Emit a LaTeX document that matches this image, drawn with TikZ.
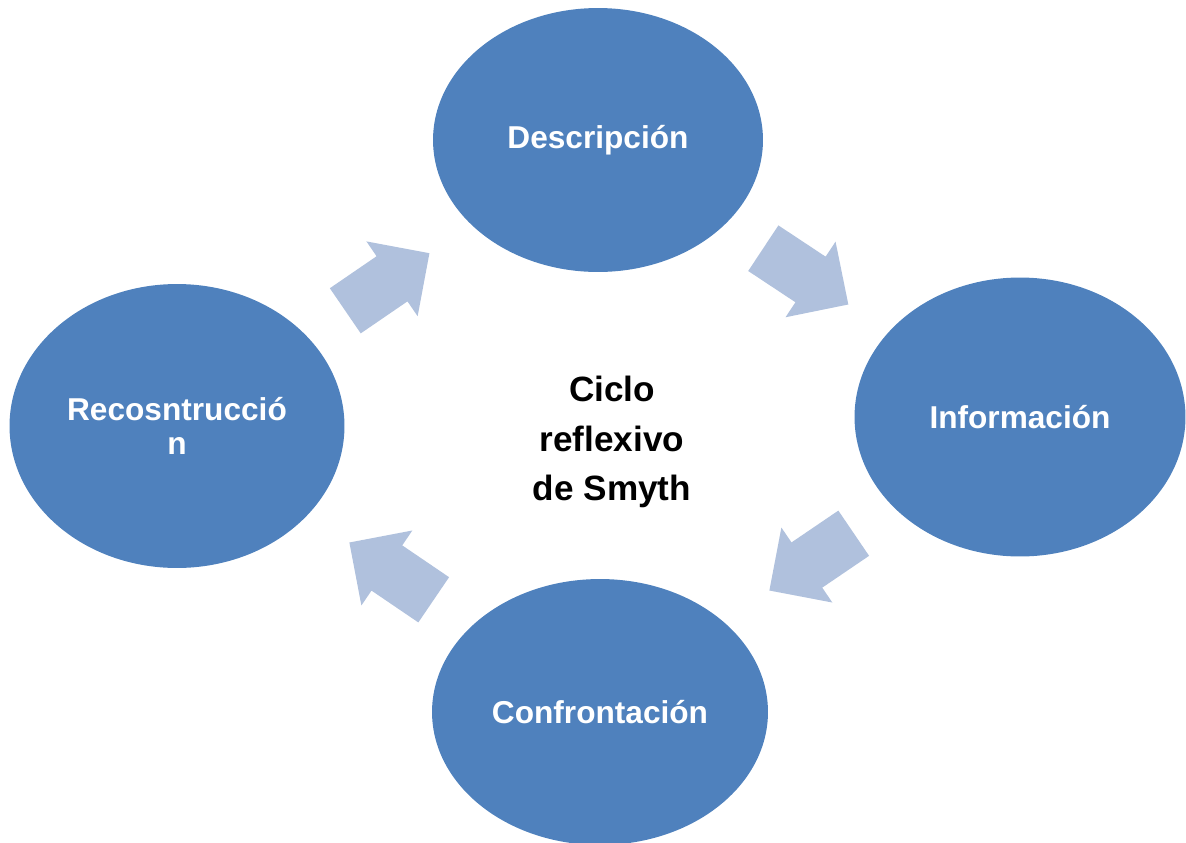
\documentclass[tikz,border=0pt]{standalone}
\usepackage{fontspec}
\setmainfont{Liberation Sans}
\usetikzlibrary{shapes.geometric,shapes.arrows}
\definecolor{azul}{RGB}{79,129,189}
\definecolor{azulclaro}{RGB}{176,193,221}
\tikzset{
    etapa/.style={ellipse, fill=azul, text=white, inner sep=0pt, align=center,
        font=\bfseries\fontsize{18}{19.5}\selectfont},
    flecha/.style={single arrow, fill=azulclaro, inner xsep=0pt, inner ysep=0.54cm,
        minimum height=2.04cm, single arrow head extend=0.36cm, anchor=tail}
}
\begin{document}
\begin{tikzpicture}[x=0.02cm, y=-0.02cm]
    \useasboundingbox (0,0) rectangle (1186,842);
    \clip (0,0) rectangle (1186,842);
    \node[etapa, minimum width=6.6cm, minimum height=5.28cm] (desc) at (598,140) {Descripción};
    \node[etapa, minimum width=6.62cm, minimum height=5.58cm] (info) at (1020,417) {Información};
    \node[etapa, minimum width=6.72cm, minimum height=5.32cm] (conf) at (600,712) {Confrontación};
    \node[etapa, minimum width=6.7cm, minimum height=5.68cm] (recon) at (177,426) {Recosntrucció\\n};
    \node[flecha, rotate=-33.5] (f1) at (763,248) {};
    \node[flecha, rotate=214.2] (f2) at (854,533) {};
    \node[flecha, rotate=145.8] (f3) at (434,600) {};
    \node[flecha, rotate=34.4] (f4) at (345,311) {};
    \node[font=\bfseries\fontsize{20}{28}\selectfont, align=center] (ciclo) at (612,442) {Ciclo\\reflexivo\\de Smyth};
\end{tikzpicture}
\end{document}
